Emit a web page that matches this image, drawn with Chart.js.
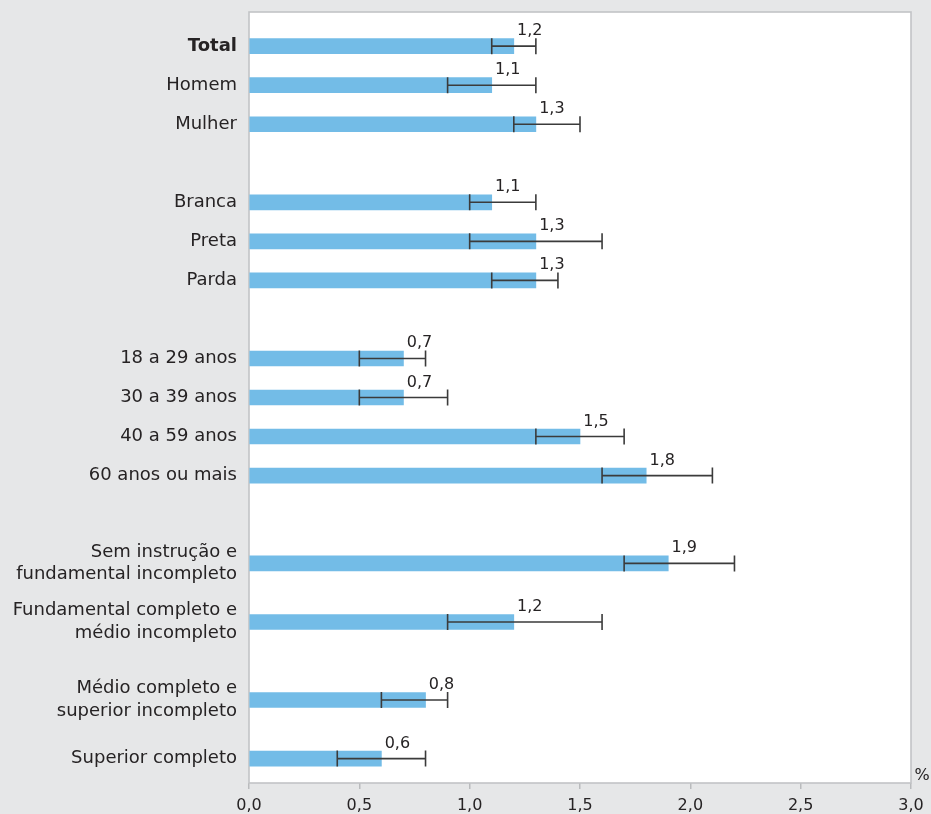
<!DOCTYPE html>
<html lang="pt-BR">
<head>
<meta charset="utf-8">
<title>Gráfico de barras</title>
<script src="https://cdn.jsdelivr.net/npm/chart.js@4.4.1/dist/chart.umd.min.js"></script>
<style>
  html, body { margin: 0; padding: 0; background: #e6e7e8; }
  #chart { display: block; }
</style>
</head>
<body>
<canvas id="chart" width="931" height="814"></canvas>
<script>
const categories = [
    'Total', 'Homem', 'Mulher',
    'Branca', 'Preta', 'Parda',
    '18 a 29 anos', '30 a 39 anos', '40 a 59 anos', '60 anos ou mais',
    ['Sem instrução e', 'fundamental incompleto'],
    ['Fundamental completo e', 'médio incompleto'],
    ['Médio completo e', 'superior incompleto'],
    'Superior completo'
];
const values = [1.2, 1.1, 1.3, 1.1, 1.3, 1.3, 0.7, 0.7, 1.5, 1.8, 1.9, 1.2, 0.8, 0.6];
const errorLow = [1.1, 0.9, 1.2, 1.0, 1.0, 1.1, 0.5, 0.5, 1.3, 1.6, 1.7, 0.9, 0.6, 0.4];
const errorHigh = [1.3, 1.3, 1.5, 1.3, 1.6, 1.4, 0.8, 0.9, 1.7, 2.1, 2.2, 1.6, 0.9, 0.8];
const xTickValues = [0, 0.5, 1, 1.5, 2, 2.5, 3];

// empty rows inserted before each category (groups are separated by bigger gaps)
const rowGap = [3, 3, 3, 7, 3, 3, 7, 3, 3, 3, 8, 5, 7, 5];
const trailingGap = 2;

const TEXT = '#262324';
const FONT = "'DejaVu Sans', sans-serif";

const labels = [];
const barData = [];
const rowOf = [];
categories.forEach((name, i) => {
    for (let g = 0; g < rowGap[i]; g++) {
        labels.push('');
        barData.push(null);
        rowOf.push(-1);
    }
    labels.push(name);
    barData.push(values[i]);
    rowOf.push(i);
});
for (let g = 0; g < trailingGap; g++) {
    labels.push('');
    barData.push(null);
    rowOf.push(-1);
}

function fmt(v) {
    return v.toFixed(1).replace('.', ',');
}

const plotFrame = {
    id: 'plotFrame',
    beforeDatasetsDraw(chart) {
        const { ctx, chartArea: a } = chart;
        ctx.save();
        ctx.fillStyle = '#ffffff';
        ctx.fillRect(a.left, a.top, a.right - a.left, a.bottom - a.top);
        ctx.strokeStyle = '#c2c4c6';
        ctx.lineWidth = 1.6;
        ctx.strokeRect(a.left, a.top, a.right - a.left, a.bottom - a.top);
        ctx.restore();
    }
};

const errorBars = {
    id: 'errorBars',
    afterDatasetsDraw(chart) {
        const { ctx } = chart;
        const x = chart.scales.x;
        const meta = chart.getDatasetMeta(0);
        ctx.save();
        ctx.strokeStyle = '#3b3b3b';
        ctx.lineWidth = 1.6;
        meta.data.forEach((bar, slot) => {
            const i = rowOf[slot];
            if (i < 0) return;
            const x1 = x.getPixelForValue(errorLow[i]);
            const x2 = x.getPixelForValue(errorHigh[i]);
            const y = bar.y;
            ctx.beginPath();
            ctx.moveTo(x1, y);
            ctx.lineTo(x2, y);
            ctx.moveTo(x1, y - 8);
            ctx.lineTo(x1, y + 8);
            ctx.moveTo(x2, y - 8);
            ctx.lineTo(x2, y + 8);
            ctx.stroke();
        });

        // value above each bar, just past its end
        ctx.fillStyle = TEXT;
        ctx.font = '16px ' + FONT;
        ctx.textAlign = 'center';
        ctx.textBaseline = 'alphabetic';
        meta.data.forEach((bar, slot) => {
            const i = rowOf[slot];
            if (i < 0) return;
            ctx.fillText(fmt(values[i]), x.getPixelForValue(values[i]) + 16, bar.y - 11);
        });

        ctx.fillText('%', chart.chartArea.right + 11, chart.chartArea.bottom - 3);
        ctx.restore();
    }
};

new Chart(document.getElementById('chart'), {
    type: 'bar',
    data: {
        labels: labels,
        datasets: [{
            data: barData,
            backgroundColor: '#73bce7',
            borderWidth: 0,
            barThickness: 15
        }]
    },
    options: {
        indexAxis: 'y',
        responsive: false,
        animation: false,
        layout: { padding: { left: 0, right: 20, top: 12, bottom: 0 } },
        plugins: {
            legend: { display: false },
            tooltip: { enabled: false }
        },
        scales: {
            y: {
                grid: { display: false, drawTicks: false },
                border: { display: false },
                ticks: {
                    autoSkip: false,
                    padding: 12,
                    color: TEXT,
                    font: (c) => ({
                        family: FONT,
                        size: 18,
                        lineHeight: 1.25,
                        weight: c.tick && c.tick.label === 'Total' ? 'bold' : 'normal'
                    })
                },
                afterFit(axis) {
                    axis.width = 249;
                    axis.paddingTop = 0;
                    axis.paddingBottom = 0;
                }
            },
            x: {
                min: 0,
                max: 3,
                grid: {
                    drawOnChartArea: false,
                    drawTicks: true,
                    tickLength: 6,
                    color: '#b9bbbd',
                    lineWidth: 1.5
                },
                border: { display: false },
                ticks: {
                    padding: 7,
                    color: TEXT,
                    font: { family: FONT, size: 16 },
                    callback: (v) => fmt(v)
                },
                afterBuildTicks(axis) {
                    axis.ticks = xTickValues.map((v) => ({ value: v }));
                },
                afterFit(axis) {
                    axis.height = 31;
                    axis.paddingLeft = 0;
                    axis.paddingRight = 0;
                }
            }
        }
    },
    plugins: [plotFrame, errorBars]
});
</script>
</body>
</html>
